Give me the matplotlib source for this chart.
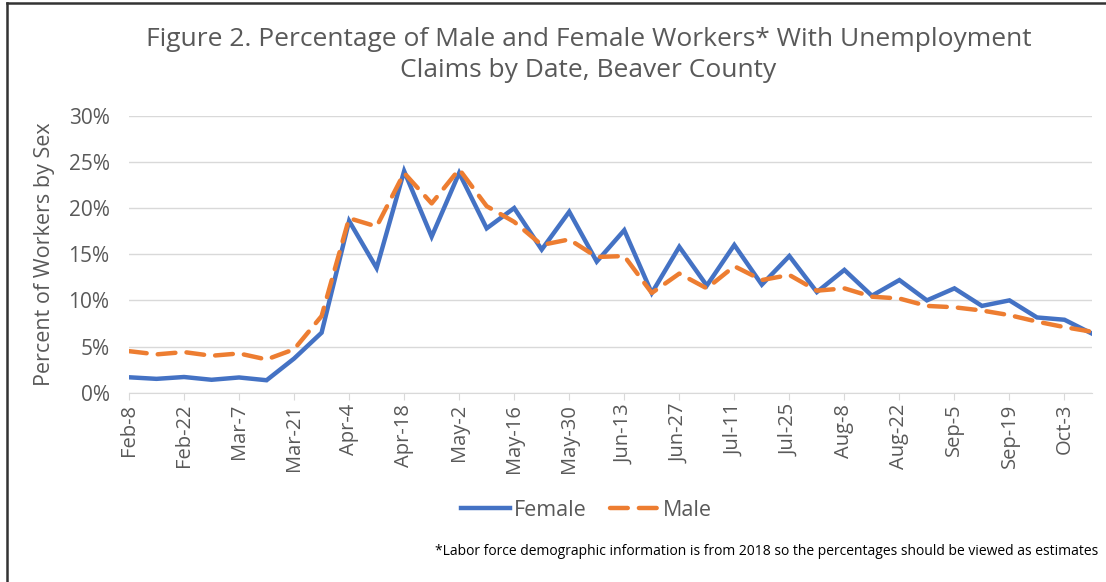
import matplotlib.pyplot as plt
from matplotlib.lines import Line2D
from matplotlib.ticker import PercentFormatter

dates = ['Feb-8', 'Feb-15', 'Feb-22', 'Feb-29', 'Mar-7', 'Mar-14', 'Mar-21', 'Mar-28',
         'Apr-4', 'Apr-11', 'Apr-18', 'Apr-25', 'May-2', 'May-9', 'May-16', 'May-23',
         'May-30', 'Jun-6', 'Jun-13', 'Jun-20', 'Jun-27', 'Jul-4', 'Jul-11', 'Jul-18',
         'Jul-25', 'Aug-1', 'Aug-8', 'Aug-15', 'Aug-22', 'Aug-29', 'Sep-5', 'Sep-12',
         'Sep-19', 'Sep-26', 'Oct-3', 'Oct-10']
female = [1.67, 1.5, 1.7, 1.4, 1.65, 1.35, 3.7, 6.5, 18.6, 13.5, 24.0, 16.9,
          23.8, 17.8, 20.0, 15.5, 19.6, 14.2, 17.6, 10.8, 15.8, 11.6, 16.0, 11.7,
          14.8, 10.9, 13.3, 10.5, 12.2, 10.0, 11.3, 9.4, 10.0, 8.15, 7.9, 6.4]
male = [4.5, 4.15, 4.4, 4.0, 4.25, 3.6, 4.7, 8.3, 18.9, 18.0, 23.8, 20.5,
        24.2, 20.2, 18.5, 16.0, 16.6, 14.7, 14.8, 10.8, 12.9, 11.3, 13.7, 12.2,
        12.75, 11.05, 11.3, 10.4, 10.2, 9.4, 9.25, 8.9, 8.4, 7.7, 7.1, 6.6]

plt.rcParams['font.family'] = ['Open Sans', 'DejaVu Sans']
gray = '#595959'
blue = '#4472C4'
orange = '#ED7D31'

fig = plt.figure(figsize=(11.06, 5.82), dpi=100)
ax = fig.add_axes([129 / 1106, 1 - 392.7 / 582, (1092 - 129) / 1106, (392.7 - 115.7) / 582])

x = list(range(len(dates)))
ax.plot(x, female, color=blue, lw=3.2, solid_joinstyle='miter', label='Female', zorder=3)
ax.plot(x, male, color=orange, lw=3.2, ls=(0, (4, 2.5)), dash_capstyle='round',
        label='Male', zorder=4)

ax.set_xlim(0, len(dates) - 1)
ax.set_ylim(0, 30)
ax.set_yticks(range(0, 31, 5))
ax.yaxis.set_major_formatter(PercentFormatter(decimals=0))
ax.set_xticks(x[::2])
ax.set_xticklabels(dates[::2], rotation=90)
ax.grid(axis='y', color='#d9d9d9', lw=1)
ax.set_axisbelow(True)
for s in ['top', 'right', 'left']:
    ax.spines[s].set_visible(False)
ax.spines['bottom'].set_color('#d9d9d9')
ax.tick_params(axis='y', length=0, labelsize=15, labelcolor=gray, pad=14)
ax.tick_params(axis='x', length=5, color='#d9d9d9', labelsize=14.5, labelcolor=gray, pad=3)
ax.set_ylabel('Percent of Workers by Sex', fontsize=15.5, color=gray, labelpad=10)

fig.text(0.532, 0.905, 'Figure 2. Percentage of Male and Female Workers* With Unemployment\nClaims by Date, Beaver County',
         ha='center', va='center', fontsize=19, color=gray, linespacing=1.3)

handles = [Line2D([], [], color=blue, lw=3.2),
           Line2D([], [], color=orange, lw=3.2, ls=(0, (4, 2.5)), dash_capstyle='round')]
fig.legend(handles, ['Female', 'Male'], loc='center', bbox_to_anchor=(0.53, 0.123),
           ncol=2, frameon=False, fontsize=15.5, labelcolor=gray, handlelength=2.3,
           handletextpad=0.15, columnspacing=1.1)

fig.text(0.993, 0.052, '*Labor force demographic information is from 2018 so the percentages should be viewed as estimates',
         ha='right', va='center', fontsize=10, color='black')

# frame lines at top and left
fig.add_artist(Line2D([7 / 1106, 1], [1 - 3 / 582, 1 - 3 / 582], color='#333333', lw=1.8))
fig.add_artist(Line2D([7 / 1106, 7 / 1106], [0, 1 - 3 / 582], color='#333333', lw=1.8))

fig.savefig('out.png', dpi=100)
